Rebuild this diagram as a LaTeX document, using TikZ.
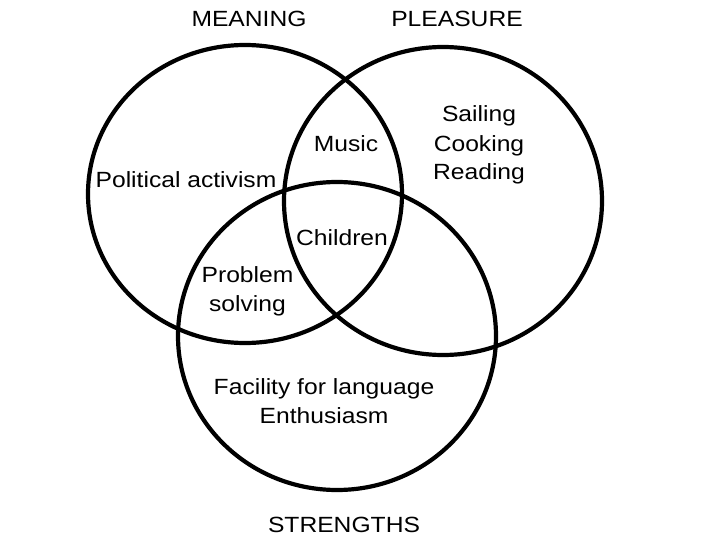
\documentclass[tikz,border=0pt]{standalone}
\usepackage{fontspec}
\setmainfont[FakeStretch=1.12]{Liberation Sans}
\begin{document}
\begin{tikzpicture}[x=1pt,y=-1pt,
  ring/.style={line width=4.2pt},
  lbl/.style={inner sep=0pt,anchor=base,align=center,font=\fontsize{22}{29}\selectfont}]
\useasboundingbox (0,0) rectangle (720,540);
\draw[ring] (245,194) ellipse [x radius=157pt, y radius=149pt];
\draw[ring] (443,201) ellipse [x radius=159pt, y radius=154pt];
\draw[ring] (337,336) ellipse [x radius=159pt, y radius=154pt];
\node[lbl] (meaning) at (249,27) {MEANING};
\node[lbl] (pleasure) at (457,27) {PLEASURE};
\node[lbl] (strengths) at (344,532) {STRENGTHS};
\node[lbl] (political) at (186,188) {Political activism};
\node[lbl] (music) at (346,152) {Music};
\node[lbl] (children) at (342,245) {Children};
\node[lbl] (problem) at (247.5,311) {Problem\\solving};
\node[lbl] (facility) at (324,423) {Facility for language\\Enthusiasm};
\node[lbl] (sailing) at (479,180) {Sailing\\Cooking\\Reading};
\end{tikzpicture}
\end{document}
